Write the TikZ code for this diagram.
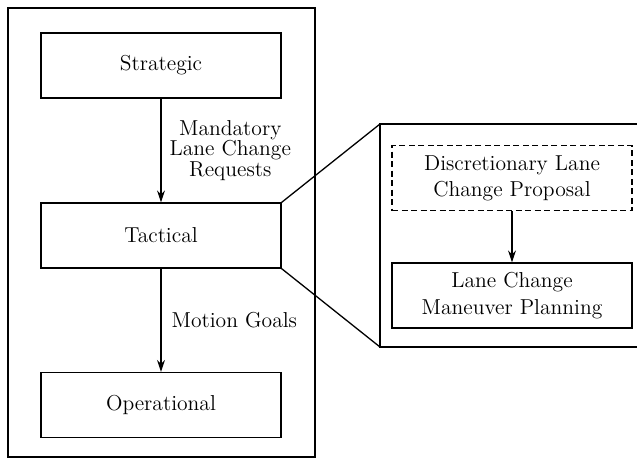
\documentclass[tikz,border=0pt]{standalone}
\usepackage{fontspec}
\setmainfont{lmroman12-regular.otf}
\usetikzlibrary{arrows.meta}
\begin{document}
\begin{tikzpicture}[x=1pt,y=-1pt,
  every node/.style={font=\fontsize{21.6}{26.3}\selectfont},
  blk/.style={draw,line width=1.3pt,minimum width=240pt,minimum height=65pt,inner sep=0pt,align=center},
  frame/.style={draw,line width=1.3pt},
  conn/.style={line width=1.3pt,-{Stealth[length=12pt,width=8pt]}},
  lbl/.style={align=center,inner sep=0pt,font=\fontsize{21.6}{20.3}\selectfont}]
\useasboundingbox (0,0) rectangle (637,459);
\clip (0,0) rectangle (637,459);
\draw[frame] (8,8) rectangle (315,457);
\node[blk] (s) at (161,65.5) {Strategic};
\node[blk] (t) at (161,235.5) {Tactical};
\node[blk] (o) at (161,405) {Operational};
\draw[conn] (s) -- node[lbl,right=8pt,pos=0.5] {Mandatory\\Lane Change\\Requests} (t);
\draw[conn] (t) -- node[lbl,right=10pt,pos=0.5] {Motion Goals} (o);
\coordinate (zt) at (380,124);
\coordinate (zb) at (380,347);
\draw[frame] (650,124) -- (zt) -- (zb) -- (650,347);
\draw[line width=1.3pt] (t.north east) -- (zt);
\draw[line width=1.3pt] (t.south east) -- (zb);
\node[blk,dash pattern=on 6pt off 3.5pt] (d) at (512,178) {Discretionary Lane\\Change Proposal};
\node[blk] (m) at (512,295.5) {Lane Change\\Maneuver Planning};
\draw[conn] (d) -- (m);
\end{tikzpicture}
\end{document}
